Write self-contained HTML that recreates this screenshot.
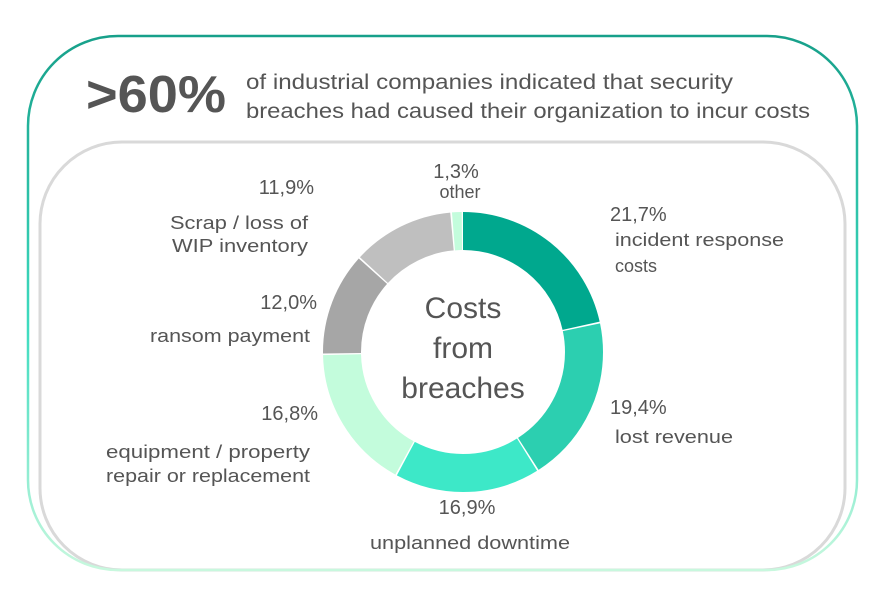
<!DOCTYPE html>
<html><head><meta charset="utf-8"><style>
html,body{margin:0;padding:0;background:#fff;}
svg{display:block;font-family:"Liberation Sans",sans-serif;}
</style></head><body>
<svg width="892" height="597" viewBox="0 0 892 597">
<defs>
<linearGradient id="g" x1="0" y1="0" x2="0" y2="1">
<stop offset="0" stop-color="#17a08a"/>
<stop offset="0.55" stop-color="#3fdcc0"/>
<stop offset="1" stop-color="#c8f8de"/>
</linearGradient>
</defs>
<rect x="40" y="142" width="805" height="428" rx="82" fill="none" stroke="#d9d9d9" stroke-width="3"/>
<rect x="28" y="36" width="829" height="534" rx="90" fill="none" stroke="url(#g)" stroke-width="2.5"/>
<text x="86" y="112" font-size="52" font-weight="bold" fill="#555" textLength="140" lengthAdjust="spacingAndGlyphs">&gt;60%</text>
<text x="246" y="89" font-size="21" fill="#555" textLength="487" lengthAdjust="spacingAndGlyphs">of industrial companies indicated that security</text>
<text x="246" y="118" font-size="21" fill="#555" textLength="564" lengthAdjust="spacingAndGlyphs">breaches had caused their organization to incur costs</text>
<g transform="rotate(-90 463 352)" fill="none" stroke-width="38">
<circle cx="463" cy="352" r="121" stroke="#00a88e" stroke-dasharray="163.5 2000" stroke-dashoffset="0"/>
<circle cx="463" cy="352" r="121" stroke="#2ccfb0" stroke-dasharray="146 2000" stroke-dashoffset="-165"/>
<circle cx="463" cy="352" r="121" stroke="#3de8c8" stroke-dasharray="127 2000" stroke-dashoffset="-312.5"/>
<circle cx="463" cy="352" r="121" stroke="#c3fcdc" stroke-dasharray="126.2 2000" stroke-dashoffset="-441"/>
<circle cx="463" cy="352" r="121" stroke="#a6a6a6" stroke-dasharray="89.7 2000" stroke-dashoffset="-568.7"/>
<circle cx="463" cy="352" r="121" stroke="#bfbfbf" stroke-dasharray="89 2000" stroke-dashoffset="-659.9"/>
<circle cx="463" cy="352" r="121" stroke="#c3fcdc" stroke-dasharray="8.4 2000" stroke-dashoffset="-750.4"/>
</g>
<g fill="#555" font-size="30" text-anchor="middle">
<text x="463" y="318">Costs</text>
<text x="463" y="358">from</text>
<text x="463" y="398">breaches</text>
</g>
<g fill="#555" font-size="18">
<text x="314" y="194" text-anchor="end" font-size="20">11,9%</text>
<text x="308" y="229" text-anchor="end" textLength="138" lengthAdjust="spacingAndGlyphs">Scrap / loss of</text>
<text x="308" y="252" text-anchor="end" textLength="136" lengthAdjust="spacingAndGlyphs">WIP inventory</text>
<text x="456" y="178" text-anchor="middle" font-size="20">1,3%</text>
<text x="460" y="198" text-anchor="middle">other</text>
<text x="610" y="221" font-size="20">21,7%</text>
<text x="615" y="246" textLength="169" lengthAdjust="spacingAndGlyphs">incident response</text>
<text x="615" y="272">costs</text>
<text x="317" y="309" text-anchor="end" font-size="20">12,0%</text>
<text x="310" y="342" text-anchor="end" textLength="160" lengthAdjust="spacingAndGlyphs">ransom payment</text>
<text x="318" y="420" text-anchor="end" font-size="20">16,8%</text>
<text x="310" y="458" text-anchor="end" textLength="204" lengthAdjust="spacingAndGlyphs">equipment / property</text>
<text x="310" y="482" text-anchor="end" textLength="204" lengthAdjust="spacingAndGlyphs">repair or replacement</text>
<text x="610" y="414" font-size="20">19,4%</text>
<text x="615" y="443" textLength="118" lengthAdjust="spacingAndGlyphs">lost revenue</text>
<text x="467" y="514" text-anchor="middle" font-size="20">16,9%</text>
<text x="470" y="549" text-anchor="middle" textLength="200" lengthAdjust="spacingAndGlyphs">unplanned downtime</text>
</g>
</svg>
</body></html>
